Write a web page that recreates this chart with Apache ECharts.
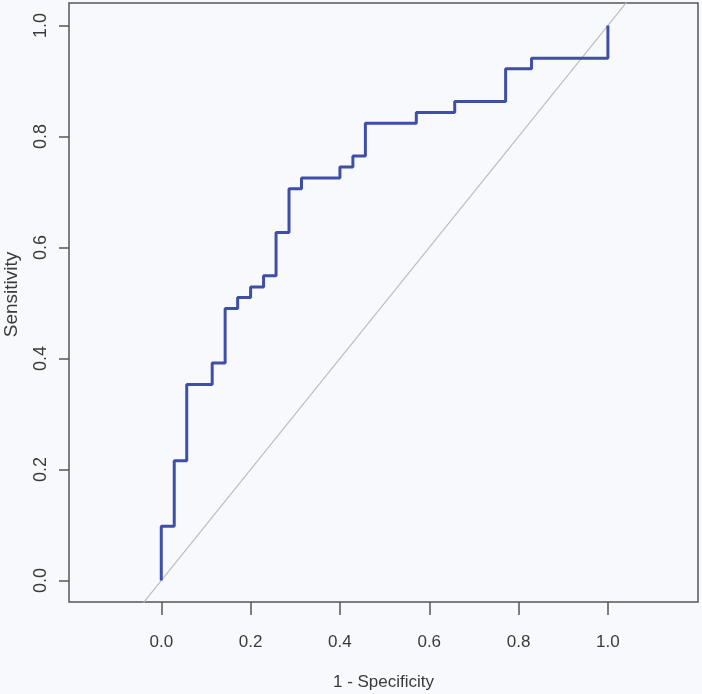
<!DOCTYPE html>
<html>
<head>
<meta charset="utf-8">
<script src="https://cdn.jsdelivr.net/npm/echarts@6/dist/echarts.min.js"></script>
<style>
  html, body { margin: 0; padding: 0; background: #f8f9fc; }
  #chart { width: 702px; height: 694px; }
</style>
</head>
<body>
<div id="chart"></div>
<script>
// ROC points (1 - specificity, sensitivity), step turns vertical first
const fpr = [0, 0.029, 0.057, 0.114, 0.143, 0.171, 0.2, 0.229, 0.257, 0.286, 0.314, 0.4, 0.429, 0.457, 0.571, 0.657, 0.771, 0.829, 1.0, 1.0];
const tpr = [0, 0.098, 0.216, 0.353, 0.392, 0.490, 0.510, 0.529, 0.549, 0.627, 0.706, 0.725, 0.745, 0.765, 0.824, 0.843, 0.863, 0.922, 0.941, 1.0];
// chance diagonal, clipped by the plot box
const chanceLine = [-0.3, 1.3];
const xTicks = [0, 0.2, 0.4, 0.6, 0.8, 1.0];
const yTicks = [0, 0.2, 0.4, 0.6, 0.8, 1.0];

const chart = echarts.init(document.getElementById('chart'));

const textColor = '#3a3a3a';
const font = '"Liberation Sans", Arimo, Arial, sans-serif';

const option = {
  animation: false,
  backgroundColor: '#f8f9fc',
  grid: {
    left: 69,
    right: 4,
    top: 3,
    bottom: 92,
    outerBoundsMode: 'none',
    containLabel: false,
    show: true,
    borderColor: '#555',
    borderWidth: 1.5,
    backgroundColor: 'transparent'
  },
  xAxis: {
    type: 'value',
    min: -0.2066,
    max: 1.2017,
    name: '1 - Specificity',
    nameLocation: 'middle',
    nameGap: 72,
    nameTextStyle: { color: textColor, fontSize: 17, fontFamily: font },
    axisLine: { show: false, onZero: false },
    splitLine: { show: false },
    axisTick: {
      show: true,
      inside: false,
      length: 13,
      customValues: xTicks,
      lineStyle: { color: '#555', width: 1.5 }
    },
    axisLabel: {
      customValues: xTicks,
      margin: 32,
      color: textColor,
      fontSize: 17,
      fontFamily: font,
      formatter: v => v.toFixed(1)
    }
  },
  yAxis: {
    type: 'value',
    min: -0.0387,
    max: 1.0405,
    name: 'Sensitivity',
    nameLocation: 'middle',
    nameGap: 48,
    nameTextStyle: { color: textColor, fontSize: 19, fontFamily: font, padding: [0, 0, 0, 16] },
    axisLine: { show: false, onZero: false },
    splitLine: { show: false },
    axisTick: {
      show: true,
      inside: false,
      length: 10,
      customValues: yTicks,
      lineStyle: { color: '#555', width: 1.5 }
    },
    axisLabel: {
      customValues: yTicks,
      rotate: 90,
      margin: 19,
      color: textColor,
      fontSize: 18,
      fontFamily: font,
      formatter: v => v.toFixed(1)
    }
  },
  series: [
    {
      type: 'line',
      data: chanceLine.map(v => [v, v]),
      showSymbol: false,
      silent: true,
      clip: true,
      lineStyle: { color: '#bdbdbd', width: 1.2 }
    },
    {
      type: 'line',
      step: 'start',
      data: fpr.map((x, i) => [x, tpr[i]]),
      showSymbol: false,
      clip: true,
      lineStyle: { color: '#3f4ea6', width: 3 }
    }
  ]
};

chart.setOption(option);
</script>
</body>
</html>
